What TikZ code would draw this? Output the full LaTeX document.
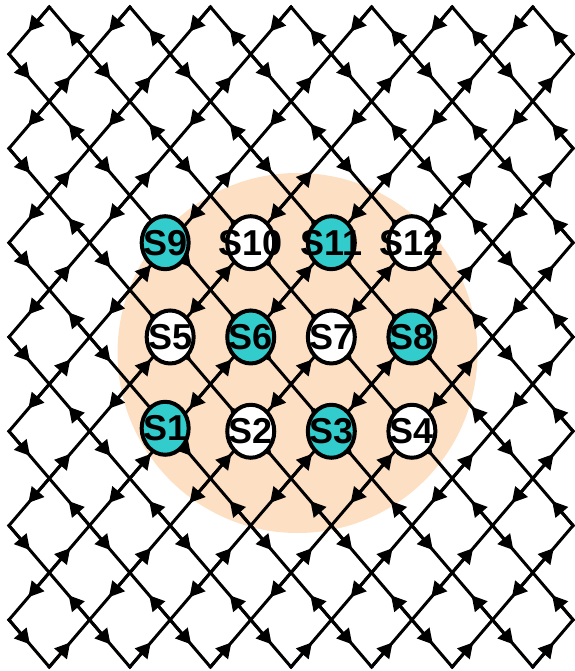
\documentclass[tikz,border=0pt]{standalone}
\usepackage{fontspec}
\setmainfont{Liberation Sans}
\usetikzlibrary{arrows.meta,shapes.geometric}
\definecolor{peach}{RGB}{253,223,195}
\definecolor{sitecyan}{RGB}{51,204,204}

\begin{document}
\begin{tikzpicture}[
  x=1pt,y=-1pt,
  wire/.style={line width=3pt,line cap=rect},
  wiretip/.style={line width=3pt,-{Triangle[length=15pt,width=16pt]}},
  sitetext/.style={font=\fontsize{36}{36}\selectfont\bfseries,inner sep=0pt},
  site/.style={draw,ellipse,line width=4pt,minimum width=47pt,minimum height=53pt,inner sep=0pt,
    label={[sitetext]center:#1}},
  fullsite/.style={site=#1,fill=sitecyan},
  emptysite/.style={site=#1,fill=white}
]
\useasboundingbox (0,0) rectangle (574,671);
\fill[peach] (297.5,353) circle[radius=180];

% lattice points
\foreach \u in {0,...,14}
  \foreach \v in {0,...,14}{
    \pgfmathtruncatemacro\odd{mod(\u+\v,2)}
    \ifnum\odd=1 \coordinate (p-\u-\v) at ({9+40.29*\u},{7+47.14*\v}); \fi
  }

% directed links, head at the middle of each link
\foreach \u in {0,...,14}
  \foreach \v in {0,...,13}{
    \pgfmathtruncatemacro\odd{mod(\u+\v,2)}
    \pgfmathtruncatemacro\ueven{1-mod(\u,2)}
    \pgfmathtruncatemacro\nv{\v+1}
    \pgfmathtruncatemacro\ru{\u+1}
    \pgfmathtruncatemacro\lu{\u-1}
    \ifnum\odd=1
      \ifnum\u<14
        \ifnum\ueven=1 \edef\tail{p-\u-\v}\edef\head{p-\ru-\nv}
        \else \edef\tail{p-\ru-\nv}\edef\head{p-\u-\v}\fi
        \draw[wire] (\tail) -- coordinate[pos=.52] (mid) (\head);
        \draw[wiretip] (\tail) -- (mid);
      \fi
      \ifnum\u>0
        \ifnum\ueven=1 \edef\tail{p-\lu-\nv}\edef\head{p-\u-\v}
        \else \edef\tail{p-\u-\v}\edef\head{p-\lu-\nv}\fi
        \draw[wire] (\tail) -- coordinate[pos=.52] (mid) (\head);
        \draw[wiretip] (\tail) -- (mid);
      \fi
    \fi
  }

% sites
\node[fullsite=S1,xshift=-5pt,yshift=3pt] (s1) at (p-4-9) {};
\node[emptysite=S2] (s2) at (p-6-9) {};
\node[fullsite=S3] (s3) at (p-8-9) {};
\node[emptysite=S4] (s4) at (p-10-9) {};
\node[emptysite=S5] (s5) at (p-4-7) {};
\node[fullsite=S6] (s6) at (p-6-7) {};
\node[emptysite=S7] (s7) at (p-8-7) {};
\node[fullsite=S8] (s8) at (p-10-7) {};
\node[fullsite=S9,xshift=-5pt] (s9) at (p-4-5) {};
\node[emptysite=S10] (s10) at (p-6-5) {};
\node[fullsite=S11] (s11) at (p-8-5) {};
\node[emptysite=S12] (s12) at (p-10-5) {};
\end{tikzpicture}
\end{document}
